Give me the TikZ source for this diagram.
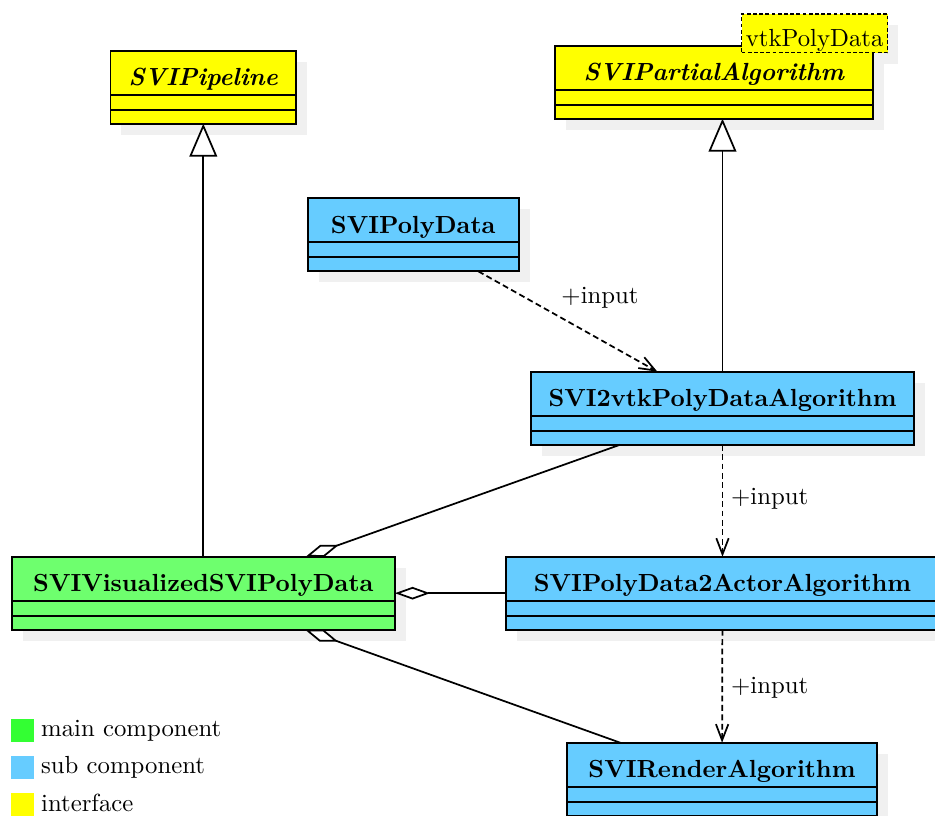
\documentclass[tikz,border=0pt]{standalone}
\usetikzlibrary{arrows.meta,calc}

\definecolor{ifaceyellow}{RGB}{255,255,0}
\definecolor{subblue}{RGB}{102,204,255}
\definecolor{mainbox}{RGB}{110,255,110}
\definecolor{mainkey}{RGB}{51,255,51}
\definecolor{shadowgray}{RGB}{240,240,240}

% drawing unit
\newdimen\pxu \pxu=0.404pt

% UML class: #1 name, #2 centre x, #3 top y, #4 width, #5 fill, #6 title
\newcommand\drawclass[6]{%
  \fill[shadowgray] ({#2-#4/2+11},{#3+11}) rectangle ({#2+#4/2+11},{#3+84});
  \node[classbox, fill=#5, minimum width=#4\pxu, anchor=north] (#1) at (#2,#3) {};
  \draw[boxline] ([yshift=-44\pxu]#1.north west) -- ([yshift=-44\pxu]#1.north east);
  \draw[boxline] ([yshift=-59\pxu]#1.north west) -- ([yshift=-59\pxu]#1.north east);
  \node[anchor=base] (#1-title) at (#2,{#3+35}) {#6};
}

\tikzset{
  classbox/.style={draw, line width=0.7pt, inner sep=0pt, outer sep=0pt, minimum height=73\pxu},
  boxline/.style={line width=0.7pt},
  inherit/.style={line width=0.7pt, -{Triangle[open, length=13.3pt, width=11.2pt, fill=white]}},
  depend/.style={line width=0.7pt, dash pattern=on 2.4pt off 1.4pt, -{Straight Barb[length=6.5pt, width=5pt]}},
  aggr/.style={line width=0.7pt, {Diamond[open, length=14.2pt, width=5.1pt, fill=white]}-},
  keybox/.style={inner sep=0pt, outer sep=0pt, minimum width=23\pxu, minimum height=22.7\pxu},
  keytext/.style={anchor=base west, inner sep=0pt},
  inputlbl/.style={anchor=base west, inner sep=0pt}
}

\begin{document}
\begin{tikzpicture}[x=0.404pt, y=-0.404pt]
\useasboundingbox (0,0) rectangle (935,816);

% interfaces
\drawclass{pipe}{203.25}{50.7}{185.5}{ifaceyellow}{\textbf{\textit{SVIPipeline}}}
\fill[shadowgray] (752,25) rectangle (898,63.7);
\drawclass{partial}{714.2}{45.7}{318.3}{ifaceyellow}{\textbf{\textit{SVIPartialAlgorithm}}}
\node[draw, line width=0.6pt, dash pattern=on 1.5pt off 1pt, fill=ifaceyellow,
      inner sep=0pt, outer sep=0pt, minimum width=146\pxu, minimum height=38.7\pxu,
      anchor=north west] (tmpl) at (741.7,14) {};
\node[anchor=base] (tmpl-text) at (814.7,46.7) {vtkPolyData};

% sub components
\drawclass{polydata}{413.2}{198.3}{211}{subblue}{\textbf{SVIPolyData}}
\drawclass{vtk2}{722.5}{371.7}{383.6}{subblue}{\textbf{SVI2vtkPolyDataAlgorithm}}
\drawclass{actor}{722.5}{556.7}{433.6}{subblue}{\textbf{SVIPolyData2ActorAlgorithm}}
\drawclass{render}{722}{742.7}{309.4}{subblue}{\textbf{SVIRenderAlgorithm}}

% main component
\drawclass{visualized}{203.3}{556.7}{383.3}{mainbox}{\textbf{SVIVisualizedSVIPolyData}}

% generalisation
\draw[inherit] (visualized.north) -- (visualized.north |- pipe.south);
\draw[inherit] (vtk2.north) -- (vtk2.north |- partial.south);

% dependencies
\draw[depend] (polydata) -- (vtk2);
\draw[depend] (vtk2) -- (actor);
\draw[depend] (actor) -- (render);
\node[inputlbl] (in1) at (561,303.3) {+input};
\node[inputlbl] (in2) at (730.7,504.3) {+input};
\node[inputlbl] (in3) at (730.7,693.3) {+input};

% aggregations
\draw[aggr] (visualized) -- (vtk2);
\draw[aggr] (visualized) -- (actor);
\draw[aggr] (visualized) -- (render);

% legend
\node[keybox, fill=mainkey, anchor=north west] (k1) at (11,719) {};
\node[keytext] (k1-text) at (40.7,736) {main component};
\node[keybox, fill=subblue, anchor=north west] (k2) at (11,756.3) {};
\node[keytext] (k2-text) at (40.7,773.3) {sub component};
\node[keybox, fill=ifaceyellow, anchor=north west] (k3) at (11,793.3) {};
\node[keytext] (k3-text) at (40.7,811) {interface};
\end{tikzpicture}
\end{document}
